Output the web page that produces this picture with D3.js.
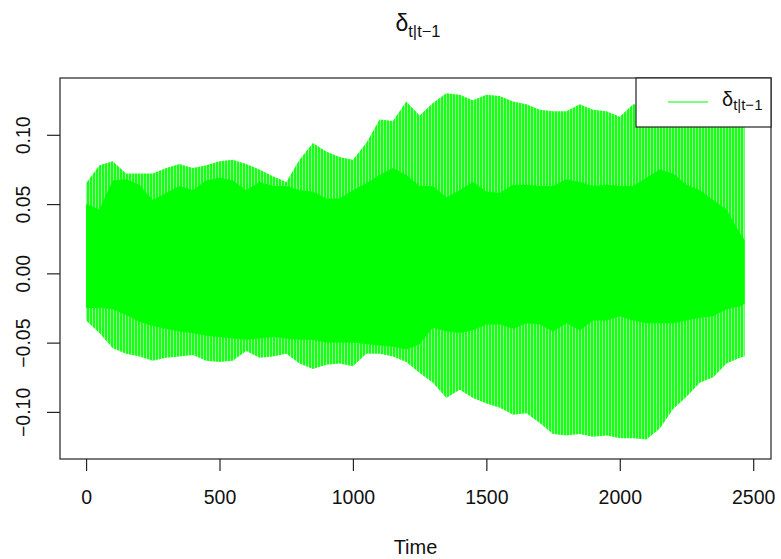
<!DOCTYPE html>
<html lang="en">
<head>
    <meta charset="UTF-8">
    <title>delta t|t-1</title>
    <style>
        body { margin: 0; background: #fff; }
        text { font-family: "Liberation Sans", Arial, sans-serif; fill: #111; }
    </style>
</head>
<body>
    <svg id="chart" width="781" height="559"></svg>
    <script src="https://d3js.org/d3.v7.min.js"></script>
    <script>
        // time index of envelope readings (series length ~2468)
        var times = [0, 50, 100, 150, 200, 250, 300, 350, 400, 450, 500, 550, 600, 650, 700, 750,
                     800, 850, 900, 950, 1000, 1050, 1100, 1150, 1200, 1250, 1300, 1350, 1400, 1450,
                     1500, 1550, 1600, 1650, 1700, 1750, 1800, 1850, 1900, 1950, 2000, 2050, 2100,
                     2150, 2200, 2250, 2300, 2350, 2400, 2450, 2468];

        // outer peaks of the oscillation
        var outerHigh = [0.065, 0.078, 0.081, 0.072, 0.072, 0.072, 0.076, 0.079, 0.076, 0.078, 0.081,
                         0.082, 0.079, 0.075, 0.070, 0.066, 0.082, 0.094, 0.088, 0.084, 0.082, 0.094,
                         0.111, 0.110, 0.124, 0.114, 0.123, 0.130, 0.129, 0.125, 0.129, 0.128, 0.124,
                         0.122, 0.118, 0.117, 0.117, 0.122, 0.118, 0.117, 0.113, 0.122, 0.121, 0.120,
                         0.118, 0.118, 0.117, 0.117, 0.116, 0.115, 0.112];
        var outerLow = [-0.034, -0.043, -0.054, -0.058, -0.060, -0.063, -0.061, -0.060, -0.059, -0.063,
                        -0.064, -0.063, -0.056, -0.061, -0.060, -0.058, -0.065, -0.069, -0.066, -0.065,
                        -0.067, -0.058, -0.058, -0.060, -0.064, -0.072, -0.079, -0.090, -0.084, -0.090,
                        -0.094, -0.097, -0.102, -0.101, -0.108, -0.116, -0.117, -0.116, -0.118, -0.117,
                        -0.119, -0.119, -0.120, -0.112, -0.098, -0.089, -0.079, -0.075, -0.065, -0.061,
                        -0.060];

        // dense core of the band
        var innerHigh = [0.050, 0.046, 0.067, 0.068, 0.064, 0.053, 0.058, 0.063, 0.060, 0.067, 0.069,
                         0.067, 0.060, 0.066, 0.063, 0.063, 0.060, 0.059, 0.054, 0.054, 0.060, 0.065,
                         0.071, 0.076, 0.071, 0.063, 0.063, 0.055, 0.060, 0.066, 0.059, 0.058, 0.064,
                         0.064, 0.063, 0.063, 0.068, 0.066, 0.063, 0.064, 0.063, 0.063, 0.069, 0.075,
                         0.072, 0.064, 0.060, 0.053, 0.046, 0.029, 0.024];
        var innerLow = [-0.025, -0.025, -0.026, -0.030, -0.035, -0.038, -0.040, -0.042, -0.043, -0.045,
                        -0.046, -0.047, -0.048, -0.047, -0.046, -0.047, -0.048, -0.048, -0.050, -0.050,
                        -0.050, -0.051, -0.052, -0.053, -0.055, -0.051, -0.039, -0.042, -0.043, -0.041,
                        -0.037, -0.037, -0.040, -0.036, -0.037, -0.042, -0.036, -0.041, -0.034, -0.034,
                        -0.031, -0.034, -0.036, -0.036, -0.036, -0.034, -0.032, -0.031, -0.026, -0.024,
                        -0.022];

        var xTicks = [0, 500, 1000, 1500, 2000, 2500];
        var yTicks = [-0.10, -0.05, 0.00, 0.05, 0.10];

        var rows = times.map(function(t, i) {
            return { t: t, oh: outerHigh[i], ol: outerLow[i], ih: innerHigh[i], il: innerLow[i] };
        });

        var box = { left: 60, right: 771, top: 78, bottom: 459 };
        var svg = d3.select("#chart");

        var n = 2468;
        var x = d3.scaleLinear()
                  .domain([1 - 0.04 * (n - 1), n + 0.04 * (n - 1)])
                  .range([box.left, box.right]);
        var y = d3.scaleLinear()
                  .domain([-0.134, 0.141])
                  .range([box.bottom, box.top]);

        // striped fill to mimic the dense vertical swings
        var defs = svg.append("defs");
        var pat = defs.append("pattern")
                      .attr("id", "swings")
                      .attr("patternUnits", "userSpaceOnUse")
                      .attr("width", 3).attr("height", 10);
        pat.append("rect").attr("width", 3).attr("height", 10).attr("fill", "#8cff8c");
        pat.append("rect").attr("width", 2).attr("height", 10).attr("fill", "#1aff1a");

        var outerArea = d3.area()
                          .x(function(d) { return x(d.t); })
                          .y0(function(d) { return y(d.ol); })
                          .y1(function(d) { return y(d.oh); });
        var innerArea = d3.area()
                          .x(function(d) { return x(d.t); })
                          .y0(function(d) { return y(d.il); })
                          .y1(function(d) { return y(d.ih); });

        svg.append("path")
            .datum(rows)
            .attr("d", outerArea)
            .attr("fill", "url(#swings)");
        svg.append("path")
            .datum(rows)
            .attr("d", innerArea)
            .attr("fill", "#00ff00");

        // plot box
        svg.append("rect")
            .attr("x", box.left).attr("y", box.top)
            .attr("width", box.right - box.left).attr("height", box.bottom - box.top)
            .attr("fill", "none").attr("stroke", "#222").attr("stroke-width", 1.2);

        // x axis
        var gx = svg.append("g")
                    .attr("transform", "translate(0," + box.bottom + ")")
                    .call(d3.axisBottom(x).tickValues(xTicks).tickSize(12).tickPadding(19)
                            .tickFormat(d3.format("d")));
        gx.select(".domain").remove();
        gx.selectAll("line").attr("stroke", "#222").attr("stroke-width", 1.2);
        gx.selectAll("text").style("font-size", "19.5px").attr("fill", "#111");

        // y axis, labels turned like R does
        var gy = svg.append("g")
                    .attr("transform", "translate(" + box.left + ",0)")
                    .call(d3.axisLeft(y).tickValues(yTicks).tickSize(13)
                            .tickFormat(d3.format(".2f")));
        gy.select(".domain").remove();
        gy.selectAll("line").attr("stroke", "#222").attr("stroke-width", 1.2);
        gy.selectAll("text")
          .attr("x", null).attr("dy", null)
          .attr("transform", "translate(-37,0) rotate(-90)")
          .attr("text-anchor", "middle")
          .attr("dominant-baseline", "central")
          .style("font-size", "19.5px").attr("fill", "#111");

        // axis title
        svg.append("text")
            .attr("x", (box.left + box.right) / 2)
            .attr("y", 554)
            .attr("text-anchor", "middle")
            .style("font-size", "20px")
            .text("Time");

        // main title
        var title = svg.append("text")
                       .attr("x", 418).attr("y", 31)
                       .attr("text-anchor", "middle");
        title.append("tspan").style("font-size", "23px").text("δ");
        title.append("tspan").style("font-size", "16.5px").attr("dy", 6).text("t|t−1");

        // legend
        var lg = svg.append("g");
        lg.append("rect")
          .attr("x", 636).attr("y", box.top)
          .attr("width", box.right - 636).attr("height", 49)
          .attr("fill", "#fff").attr("stroke", "#222").attr("stroke-width", 1.2);
        lg.append("line")
          .attr("x1", 668).attr("x2", 708).attr("y1", 102).attr("y2", 102)
          .attr("stroke", "#00ff00").attr("stroke-width", 1.2);
        var lt = lg.append("text").attr("x", 722).attr("y", 106);
        lt.append("tspan").style("font-size", "20px").text("δ");
        lt.append("tspan").style("font-size", "15px").attr("dy", 4).text("t|t−1");
    </script>
</body>
</html>
